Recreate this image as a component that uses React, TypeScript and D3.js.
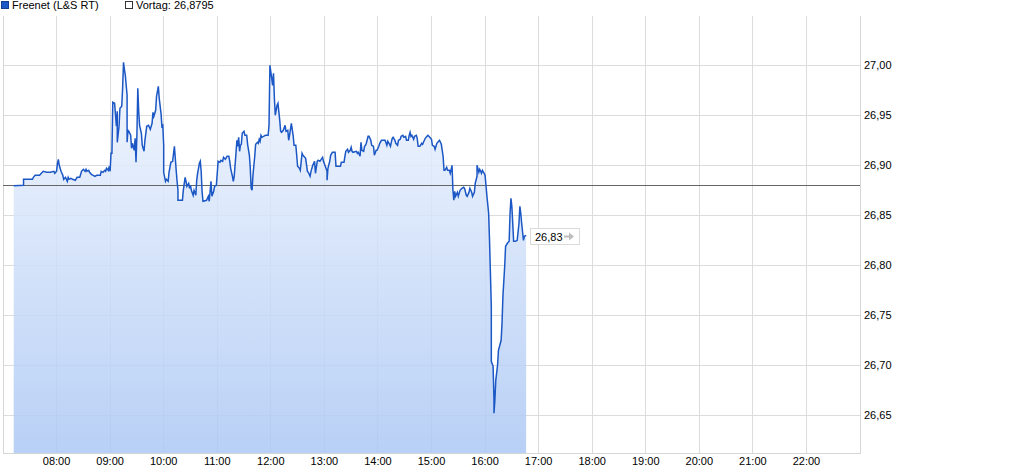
import React, { useEffect } from "react";
import * as d3 from "d3";

const times: string[] = [
  "07:12","07:23","07:23","07:33","07:34","07:36","07:41","07:42","07:45","07:49",
  "07:53","07:57","07:58","08:00","08:01","08:02","08:03","08:05","08:07","08:08",
  "08:10","08:12","08:13","08:14","08:16","08:18","08:21","08:23","08:26","08:28",
  "08:30","08:32","08:33","08:34","08:36","08:37","08:39","08:41","08:43","08:45",
  "08:49","08:50","08:52","08:54","08:55","08:56","08:58","08:59","09:00","09:01",
  "09:02","09:03","09:05","09:07","09:08","09:08","09:10","09:11","09:13","09:14",
  "09:15","09:16","09:17","09:19","09:19","09:20","09:21","09:23","09:24","09:25",
  "09:27","09:28","09:29","09:30","09:31","09:32","09:33","09:35","09:36","09:38",
  "09:39","09:41","09:43","09:45","09:47","09:48","09:49","09:51","09:52","09:54",
  "09:55","09:57","09:58","09:59","10:00","10:00","10:02","10:03","10:05","10:06",
  "10:08","10:10","10:12","10:13","10:14","10:15","10:16","10:16","10:21","10:22",
  "10:24","10:25","10:26","10:28","10:29","10:30","10:31","10:33","10:34","10:36",
  "10:37","10:38","10:40","10:41","10:42","10:43","10:44","10:48","10:50","10:51",
  "10:52","10:53","10:54","10:56","10:57","10:59","11:00","11:01","11:03","11:04",
  "11:06","11:07","11:09","11:11","11:13","11:14","11:15","11:17","11:18","11:19",
  "11:21","11:22","11:23","11:24","11:25","11:26","11:27","11:28","11:30","11:31",
  "11:33","11:34","11:36","11:37","11:38","11:39","11:40","11:42","11:43","11:45",
  "11:46","11:47","11:48","11:49","11:50","11:54","11:57","11:58","11:59","12:01",
  "12:02","12:03","12:04","12:05","12:07","12:08","12:10","12:11","12:12","12:14",
  "12:16","12:17","12:19","12:20","12:21","12:23","12:25","12:26","12:28","12:29",
  "12:30","12:32","12:33","12:35","12:36","12:37","12:39","12:41","12:42","12:44",
  "12:45","12:47","12:49","12:50","12:52","12:53","12:55","12:58","12:59","13:01",
  "13:03","13:03","13:04","13:06","13:07","13:09","13:12","13:13","13:18","13:19",
  "13:22","13:23","13:24","13:26","13:27","13:29","13:30","13:31","13:32","13:36",
  "13:37","13:38","13:40","13:41","13:42","13:44","13:45","13:46","13:47","13:49",
  "13:50","13:52","13:53","13:55","13:56","13:58","13:59","14:01","14:02","14:04",
  "14:08","14:10","14:11","14:13","14:14","14:16","14:17","14:19","14:20","14:22",
  "14:23","14:25","14:26","14:28","14:29","14:31","14:32","14:34","14:35","14:36",
  "14:37","14:38","14:40","14:41","14:43","14:44","14:45","14:47","14:49","14:50",
  "14:52","14:53","14:55","14:56","14:58","15:00","15:01","15:03","15:04","15:06",
  "15:08","15:09","15:11","15:13","15:14","15:15","15:17","15:18","15:20","15:21",
  "15:23","15:24","15:25","15:26","15:27","15:29","15:30","15:32","15:34","15:36",
  "15:37","15:39","15:40","15:42","15:43","15:45","15:46","15:48","15:49","15:51",
  "15:51","15:53","15:54","15:56","15:57","15:59","16:00","16:02","16:04","16:05",
  "16:07","16:07","16:09","16:10","16:10","16:11","16:12","16:14","16:15","16:18",
  "16:19","16:20","16:22","16:23","16:25","16:27","16:28","16:29","16:30","16:31",
  "16:32","16:34","16:36","16:38","16:39","16:40","16:41","16:43","16:44","16:46",
];

const prices: number[] = [
  26.8795,26.880,26.886,26.886,26.888,26.890,26.890,26.891,26.894,26.893,
  26.893,26.894,26.892,26.894,26.902,26.906,26.900,26.894,26.890,26.886,
  26.888,26.884,26.888,26.886,26.887,26.886,26.885,26.888,26.888,26.894,
  26.896,26.894,26.896,26.894,26.895,26.893,26.891,26.890,26.889,26.890,
  26.890,26.894,26.893,26.895,26.894,26.897,26.895,26.899,26.894,26.912,
  26.912,26.963,26.962,26.939,26.954,26.923,26.939,26.957,26.959,26.977,
  27.003,26.996,26.990,26.970,26.923,26.935,26.934,26.930,26.917,26.922,
  26.915,26.927,26.903,26.930,26.977,26.954,26.940,26.932,26.920,26.914,
  26.925,26.939,26.940,26.936,26.942,26.953,26.949,26.955,26.969,26.979,
  26.967,26.952,26.939,26.940,26.920,26.893,26.884,26.886,26.884,26.893,
  26.903,26.904,26.919,26.907,26.895,26.884,26.875,26.865,26.865,26.875,
  26.888,26.884,26.879,26.882,26.877,26.880,26.875,26.870,26.875,26.870,
  26.885,26.892,26.902,26.904,26.894,26.874,26.864,26.865,26.869,26.864,
  26.874,26.884,26.869,26.874,26.879,26.880,26.892,26.904,26.903,26.905,
  26.904,26.908,26.906,26.909,26.909,26.904,26.897,26.889,26.884,26.889,
  26.912,26.925,26.919,26.928,26.914,26.920,26.921,26.932,26.934,26.930,
  26.930,26.921,26.910,26.897,26.877,26.875,26.890,26.909,26.921,26.923,
  26.922,26.926,26.924,26.930,26.928,26.930,26.930,26.940,27.000,26.987,
  26.980,26.992,26.967,26.950,26.960,26.962,26.945,26.934,26.933,26.935,
  26.940,26.934,26.935,26.925,26.930,26.942,26.930,26.920,26.920,26.910,
  26.899,26.897,26.895,26.912,26.910,26.909,26.907,26.894,26.893,26.889,
  26.894,26.900,26.904,26.892,26.904,26.905,26.904,26.908,26.904,26.899,
  26.894,26.885,26.897,26.904,26.910,26.913,26.913,26.899,26.899,26.903,
  26.903,26.909,26.914,26.916,26.913,26.915,26.918,26.914,26.913,26.914,
  26.912,26.913,26.909,26.923,26.915,26.914,26.919,26.920,26.922,26.929,
  26.929,26.925,26.920,26.919,26.910,26.915,26.915,26.919,26.922,26.925,
  26.925,26.920,26.924,26.921,26.919,26.927,26.928,26.925,26.922,26.920,
  26.925,26.926,26.929,26.930,26.928,26.929,26.925,26.925,26.930,26.933,
  26.929,26.930,26.926,26.929,26.930,26.927,26.919,26.919,26.922,26.921,
  26.925,26.927,26.929,26.930,26.928,26.926,26.920,26.919,26.916,26.922,
  26.924,26.925,26.921,26.909,26.895,26.895,26.898,26.895,26.895,26.892,
  26.900,26.875,26.865,26.874,26.869,26.873,26.869,26.875,26.877,26.878,
  26.877,26.870,26.869,26.873,26.877,26.873,26.869,26.873,26.882,26.889,
  26.900,26.893,26.896,26.892,26.895,26.892,26.890,26.870,26.852,26.825,
  26.759,26.704,26.699,26.665,26.652,26.665,26.685,26.700,26.715,26.725,
  26.742,26.769,26.799,26.819,26.822,26.824,26.852,26.867,26.859,26.842,
  26.824,26.824,26.825,26.842,26.859,26.852,26.842,26.825,26.829,26.830,
];

const prevClose = 26.8795;
const yTicks: number[] = [26.65, 26.70, 26.75, 26.80, 26.85, 26.90, 26.95, 27.00];
const xTicks: string[] = [
  "08:00","09:00","10:00","11:00","12:00","13:00","14:00","15:00",
  "16:00","17:00","18:00","19:00","20:00","21:00","22:00",
];
const seriesName = "Freenet (L&S RT)";
const prevLabel = "Vortag: 26,8795";
const xDomain: string[] = ["07:00", "23:00"];
const yDomain: number[] = [26.6123, 27.0493];

const W = 1012;
const H = 472;
const L = 3;
const R = 860;
const T = 16;
const B = 453;
const FONT = "'Liberation Sans', Arial, Helvetica, sans-serif";

function toMin(s: string): number {
  const [h, m] = s.split(":").map(Number);
  return h * 60 + m;
}
const px = (v: number) => Math.floor(v) + 0.5;
const fmt = (v: number, d: number) => v.toFixed(d).replace(".", ",");

export default function App() {
  useEffect(() => {
    document.body.style.margin = "0";
  }, []);

  const x = d3.scaleLinear().domain(xDomain.map(toMin)).range([L, R]);
  const y = d3.scaleLinear().domain(yDomain).range([B, T]);
  const data = times.map((t, i) => ({ t: toMin(t), v: prices[i] }));

  const line = d3
    .line<{ t: number; v: number }>()
    .x((d) => x(d.t))
    .y((d) => y(d.v));
  const area = d3
    .area<{ t: number; v: number }>()
    .x((d) => x(d.t))
    .y0(B)
    .y1((d) => y(d.v));

  const last = data[data.length - 1];
  const lx = x(last.t);
  const ly = y(last.v);

  return (
    <svg
      width={W}
      height={H}
      style={{ position: "absolute", left: 0, top: 0, display: "block" }}
      fontFamily={FONT}
    >
      <defs>
        <linearGradient id="fillGrad" gradientUnits="userSpaceOnUse" x1={0} y1={T} x2={0} y2={B}>
          <stop offset="0" stopColor="#f9fbff" />
          <stop offset="1" stopColor="#acc8f4" />
        </linearGradient>
      </defs>
      <rect x={0} y={0} width={W} height={H} fill="#fff" />

      {/* grid */}
      {yTicks.map((v) => (
        <line key={"gy" + v} x1={L} x2={R} y1={px(y(v))} y2={px(y(v))} stroke="#dcdcdc" strokeWidth={1} />
      ))}
      {xTicks.map((t) => (
        <line key={"gx" + t} x1={px(x(toMin(t)))} x2={px(x(toMin(t)))} y1={T} y2={B} stroke="#dcdcdc" strokeWidth={1} />
      ))}

      {/* area */}
      <path d={area(data) || ""} fill="url(#fillGrad)" opacity={0.85} />

      {/* borders */}
      <line x1={px(L)} x2={px(L)} y1={T} y2={B + 1} stroke="#d6d6d6" />
      <line x1={L} x2={R + 1} y1={px(B)} y2={px(B)} stroke="#d6d6d6" />
      <line x1={px(R)} x2={px(R)} y1={T} y2={B + 1} stroke="#d6d6d6" />

      {/* previous close */}
      <line x1={L} x2={R} y1={px(y(prevClose))} y2={px(y(prevClose))} stroke="#666666" strokeWidth={1} />

      {/* price line */}
      <path d={line(data) || ""} fill="none" stroke="#1b57c5" strokeWidth={1.5} strokeLinejoin="miter" />

      {/* y labels */}
      {yTicks.map((v) => (
        <text key={"ty" + v} x={R + 4} y={y(v) + 4} fontSize={11} fill="#000">
          {fmt(v, 2)}
        </text>
      ))}
      {/* x labels */}
      {xTicks.map((t) => (
        <text key={"tx" + t} x={x(toMin(t))} y={B + 12} fontSize={11} fill="#000" textAnchor="middle">
          {t}
        </text>
      ))}

      {/* last price box */}
      <rect x={Math.round(lx) + 4.5} y={Math.round(ly) - 6.5} width={49} height={16} fill="#fff" stroke="#dadada" />
      <text x={Math.round(lx) + 9} y={Math.round(ly) + 6} fontSize={11} fill="#000">
        {fmt(last.v, 2)}
      </text>
      <g transform={`translate(${Math.round(lx) + 38},${Math.round(ly) + 1.5})`}>
        <line x1={0} x2={7} y1={0} y2={0} stroke="#bdbdbd" strokeWidth={2} />
        <path d="M5,-4 L10,0 L5,4 Z" fill="#bdbdbd" />
      </g>

      {/* legend */}
      <rect x={1.5} y={1.5} width={7} height={7} fill="#1b57c5" stroke="#133f8f" />
      <text x={12} y={9} fontSize={11} fill="#000">
        {seriesName}
      </text>
      <rect x={125.5} y={1.5} width={7} height={7} fill="#fff" stroke="#333" />
      <text x={136} y={9} fontSize={11} fill="#000">
        {prevLabel}
      </text>
    </svg>
  );
}
